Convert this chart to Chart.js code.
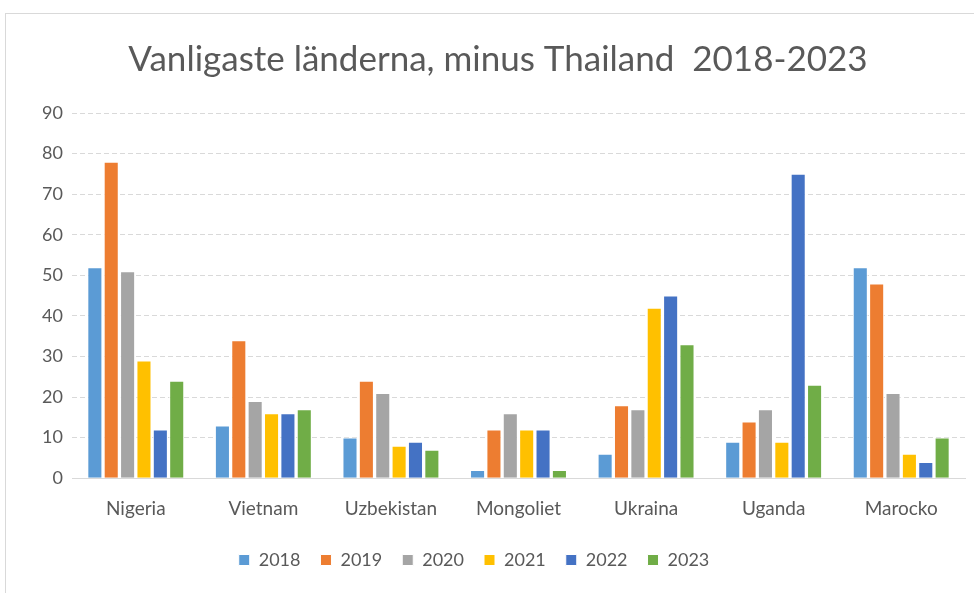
<!DOCTYPE html>
<html>
<head>
<meta charset="utf-8">
<script src="https://cdn.jsdelivr.net/npm/chart.js@4/dist/chart.umd.min.js"></script>
<style>
  html, body { margin: 0; padding: 0; background: #fff; }
  #frame { position: absolute; left: 5px; top: 13px; width: 980px; height: 600px; border: 1px solid #d9d9d9; box-sizing: border-box; }
  #wrap { position: absolute; left: 0; top: 0; width: 974px; height: 593px; }
</style>
</head>
<body>
<div id="frame"></div>
<div id="wrap"><canvas id="chart"></canvas></div>
<script>
const countries = ['Nigeria', 'Vietnam', 'Uzbekistan', 'Mongoliet', 'Ukraina', 'Uganda', 'Marocko'];
const years = ['2018', '2019', '2020', '2021', '2022', '2023'];

const v2018 = [52, 13, 10, 2, 6, 9, 52];
const v2019 = [78, 34, 24, 12, 18, 14, 48];
const v2020 = [51, 19, 21, 16, 17, 17, 21];
const v2021 = [29, 16, 8, 12, 42, 9, 6];
const v2022 = [12, 16, 9, 12, 45, 75, 4];
const v2023 = [24, 17, 7, 2, 33, 23, 10];

const colors = ['#5B9BD5', '#ED7D31', '#A5A5A5', '#FFC000', '#4472C4', '#70AD47'];
const series = [v2018, v2019, v2020, v2021, v2022, v2023];

// legend sits a bit left of the title in the original
const legendShift = {
  id: 'legendShift',
  afterLayout(chart) {
    chart.legend.left -= 24;
    chart.legend.right -= 24;
  }
};

const ctx = document.getElementById('chart').getContext('2d');
new Chart(ctx, {
  type: 'bar',
  data: {
    labels: countries,
    datasets: series.map((vals, i) => ({
      label: years[i],
      data: vals,
      backgroundColor: colors[i],
      borderColor: '#ffffff',
      borderWidth: 1,
      categoryPercentage: 0.77,
      barPercentage: 0.92
    }))
  },
  plugins: [legendShift],
  options: {
    responsive: true,
    maintainAspectRatio: false,
    animation: false,
    layout: { padding: { left: 31, right: 9, top: 39, bottom: 14 } },
    plugins: {
      title: {
        display: true,
        text: 'Vanligaste länderna, minus Thailand  2018-2023',
        color: '#595959',
        font: { family: 'Lato', size: 35, weight: 'normal' },
        padding: { top: 0, bottom: 32 }
      },
      legend: {
        position: 'bottom',
        labels: {
          color: '#595959',
          font: { family: 'Lato', size: 18 },
          boxWidth: 11,
          boxHeight: 11,
          padding: 20
        }
      },
      tooltip: { enabled: false }
    },
    scales: {
      x: {
        grid: { display: false },
        border: { color: '#d9d9d9' },
        ticks: { color: '#595959', font: { family: 'Lato', size: 19 }, padding: 11 }
      },
      y: {
        min: 0,
        max: 90,
        ticks: { stepSize: 10, color: '#595959', font: { family: 'Lato', size: 18 }, padding: 9 },
        grid: { color: '#d9d9d9', drawTicks: false },
        border: { display: false, dash: [5, 3] },
        afterFit: (scale) => { scale.width = 41; }
      }
    }
  }
});
</script>
</body>
</html>
